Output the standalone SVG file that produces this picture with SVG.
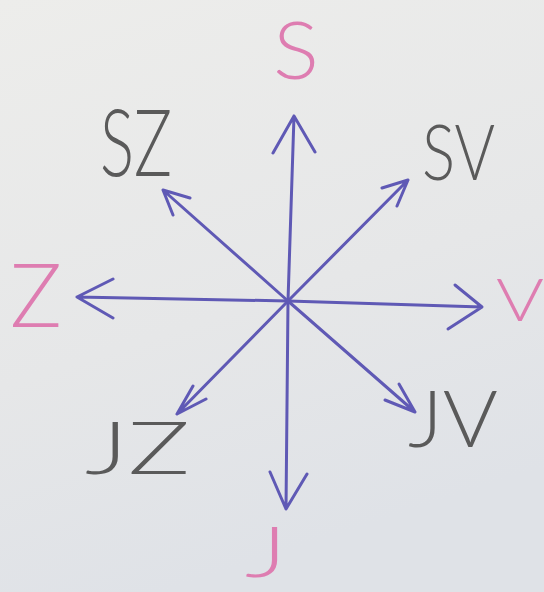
<svg xmlns="http://www.w3.org/2000/svg" width="544" height="592" viewBox="0 0 544 592">
<defs>
<linearGradient id="paper" x1="0" y1="0" x2="0.3" y2="1">
<stop offset="0" stop-color="#ededeb"/>
<stop offset="0.6" stop-color="#e6e7e8"/>
<stop offset="1" stop-color="#dfe2e7"/>
</linearGradient>
<style>
.arrow{fill:none;stroke:#5f59b5;stroke-width:3;stroke-linecap:round;stroke-linejoin:round}
.pink{fill:#de7db1;font-family:Lato,"DejaVu Sans","Liberation Sans",sans-serif;font-weight:300}
.gray{fill:#5a5a5a;font-family:Lato,"DejaVu Sans","Liberation Sans",sans-serif;font-weight:300}
</style>
</defs>
<rect width="544" height="592" fill="url(#paper)"/>
<g id="connectors">
<path class="arrow" d="M288,301 L294,116 M273,153 L294,116 L315,152"/>
<path class="arrow" d="M288,301 L286,509 M270,472 L286,509 L307,474"/>
<path class="arrow" d="M288,301 L77,297 M113,279 L77,297 L113,318"/>
<path class="arrow" d="M288,301 L482,307 M455,285 L482,307 L448,329"/>
<path class="arrow" d="M288,301 L408,180 M382,188 L408,180 L397,206"/>
<path class="arrow" d="M288,301 L163,190 M190,198 L163,190 L173,215"/>
<path class="arrow" d="M288,301 L177,414 M193,386 L177,414 L206,399"/>
<path class="arrow" d="M288,301 L415,412 M399,384 L415,412 L385,400"/>
</g>
<g id="node-S"><text class="pink" x="273" y="79" font-size="80" textLength="46" lengthAdjust="spacingAndGlyphs">S</text></g>
<g id="node-Z"><text class="pink" x="10" y="327" font-size="88" textLength="52" lengthAdjust="spacingAndGlyphs">Z</text></g>
<g id="node-V"><text class="pink" x="496" y="321" font-size="60" textLength="48" lengthAdjust="spacingAndGlyphs">V</text></g>
<g id="node-J"><text class="pink" x="245" y="577" font-size="70" textLength="42" lengthAdjust="spacingAndGlyphs">J</text></g>
<g id="node-SZ"><text class="gray" x="100" y="176" font-size="92" textLength="72" lengthAdjust="spacingAndGlyphs">SZ</text></g>
<g id="node-SV"><text class="gray" x="422" y="180" font-size="76" textLength="73" lengthAdjust="spacingAndGlyphs">SV</text></g>
<g id="node-JZ"><text class="gray" x="85" y="474" font-size="72" textLength="105" lengthAdjust="spacingAndGlyphs">JZ</text></g>
<g id="node-JV"><text class="gray" x="408" y="447" font-size="78" textLength="90" lengthAdjust="spacingAndGlyphs">JV</text></g>
</svg>
